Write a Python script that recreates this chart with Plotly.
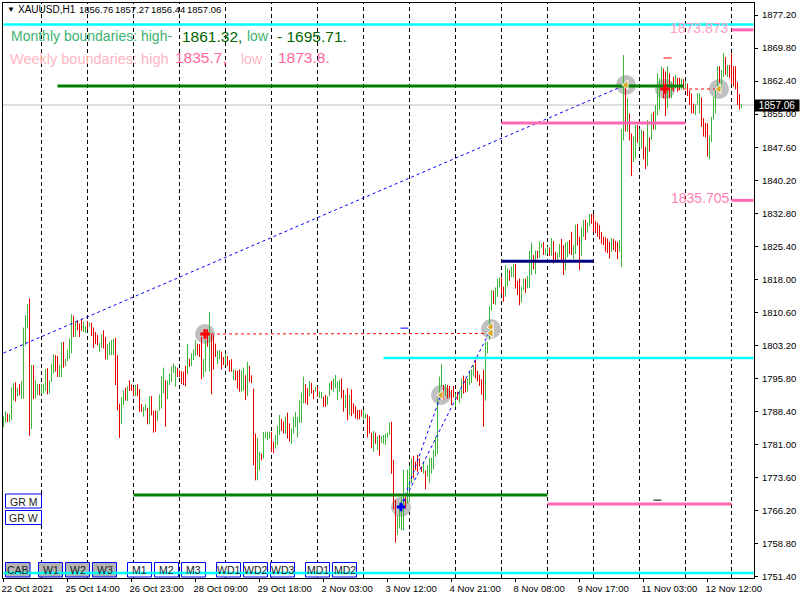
import plotly.graph_objects as go

# Bar highs / lows / direction (one list set per stretch of the chart)
highs_a = [1787.1,1788.2,1787.7,1787.6,1793.6,1794.5,1794.7,1793.5,1794.3,1795,1807,1809.8,1812.3,1813.5,1798.6,1798.6,1795.2,1794.4,1794.3,1794.4,1794.4,1797.7,1797.9,1795.2,1798.9,1801,1800.8,1800.6,1798.6,1803.6,1803.8,1800,1802.1,1804.6,1810,1809.7,1808.3,1808.7,1807.9,1809,1808.3,1807.3,1808.5,1808.1,1808.1,1807,1806,1805.4,1803.6,1805.5,1806.4,1804.9,1803.3,1803.8,1804.2,1804.4,1804.7,1800.8,1789.9,1791.4,1792.9,1793.5,1793.8,1795.2,1794.3,1793.7,1794.1,1794.3,1793.2,1789.8,1789.2,1789.8,1789,1791.6,1791.6,1788.3,1788.4,1788.3,1792,1796.1,1798,1795.2,1795.1,1796.7,1798.2,1798.9,1798.4,1798,1797.4,1797.2,1797.1,1798.4,1803.3,1800,1801.2,1802.1,1804.2,1803.4,1803.3,1804.9,1800,1804.2,1806.6,1810.5,1805.5,1805.3,1803.4,1801.8,1802,1801.6,1800.4,1801.2,1800.6,1799.7,1799.9,1797.6,1797.4,1797.3,1797.6,1797.4,1798,1796.3,1799.3,1798.4,1796.3,1793.3,1783.2,1782.2,1779.1,1778.7,1783.6,1783.6,1783.6,1783.6]
lows_a = [1784.7,1785.6,1785.8,1785.8,1786.2,1790.6,1790.4,1791.5,1791.8,1791,1791,1803,1806.8,1782.7,1784.2,1790.9,1791.1,1791.8,1791.8,1792,1792.2,1792.8,1792,1792.2,1794.8,1796.7,1797.1,1795.9,1795.9,1795.9,1798,1798.3,1799.5,1800,1801.2,1804.9,1804.9,1806.4,1804.9,1806.3,1806,1805.8,1806.6,1807.2,1805.1,1802.4,1803.3,1803,1801.5,1802.5,1802.3,1799.8,1799.8,1800.8,1800.8,1800.8,1794.1,1788.4,1782.2,1785.3,1789.6,1790.6,1790.5,1792.8,1792.8,1791.6,1791.6,1791.6,1788.1,1788.1,1787,1788.3,1785.3,1785.3,1787.3,1783.4,1783.6,1786,1788.3,1788.8,1792.2,1784.7,1790.9,1794.1,1794.8,1796.9,1793.7,1795.9,1795.9,1794.3,1794.1,1793.8,1796.6,1798.2,1798.4,1799.7,1800.7,1800.8,1800.4,1795.4,1795.9,1797.1,1802.7,1797.1,1792,1797.6,1800.4,1798.8,1799.9,1797.6,1798.6,1798.6,1798.4,1797.1,1797.1,1795.2,1795.1,1793.3,1792.6,1792.6,1792.8,1790.7,1791.6,1794.8,1794.5,1776.1,1772.7,1772.7,1775,1777.2,1777.6,1782.1,1781.7,1782.1]
dirs_a = ["u","u","d","u","u","u","d","u","d","u","u","u","u","d","u","d","u","u","d","u","u","u","d","u","u","u","d","d","u","u","d","u","u","u","u","d","u","d","d","d","u","u","d","u","d","d","d","d","u","u","d","d","u","u","u","u","d","d","d","u","u","d","u","d","d","d","u","d","d","d","u","u","d","u","d","d","d","u","u","u","u","d","u","u","u","u","u","d","d","d","d","d","u","d","u","u","u","d","d","d","u","u","d","u","d","d","d","u","u","d","d","u","d","d","d","u","d","d","d","u","u","d","u","d","d","d","d","u","u","d","u","u","u","u"]

highs_b = [1783.6,1781.4,1782.9,1784.9,1787.4,1786.5,1785.9,1787,1787.9,1785.5,1784.4,1787,1788.1,1787,1790.7,1792.4,1796,1794.3,1793.4,1795,1794.6,1793,1793.7,1793.7,1792.7,1792.6,1791.5,1791.9,1791.6,1794.6,1795,1795.6,1796.4,1794.9,1795.2,1795.6,1793,1791.9,1793.4,1791.9,1793.1,1790,1789.4,1788.5,1788.5,1788.6,1788.5,1787.7,1787.5,1787,1783.4,1783.8,1783.4,1782.6,1782.9,1782.6,1782.9,1783.2,1783.4,1785.6,1785.9,1777.3,1768.3,1764.9,1767.5,1769,1775.1,1769,1775.1,1775.8,1777.6,1778.2,1776.9,1778.4,1777.6,1775.8,1776.9,1774.9,1776.1,1777.8,1777.8,1779.6,1782.5,1791.1,1796,1798.8,1794.1,1794.3,1794.1,1793.9,1793,1793.9,1792.2,1792.6,1793,1795.6,1796.2,1795.6,1795.6,1797.1,1797.6,1798.6,1799.8,1797.3,1796.4,1795.4,1797.5,1803.8,1803.8]
lows_b = [1779.1,1778.8,1779.9,1780.6,1782.9,1783.8,1783.2,1783.2,1782.1,1781.4,1780.9,1783.2,1784.6,1782.3,1785.6,1785.6,1790,1790,1789.6,1791.6,1792.2,1790.9,1792.6,1791.5,1791.2,1791.1,1789.2,1789.2,1789.6,1791.6,1793,1792.6,1793.4,1790.7,1792.6,1791.1,1788.1,1788.9,1786.2,1787.4,1787.1,1787.7,1786.6,1786.4,1786.4,1787,1786.4,1786.6,1782.3,1783.2,1779.9,1779.1,1780.9,1779.5,1778.2,1781.1,1780.9,1780.6,1782.3,1782.9,1774.2,1766.2,1758.7,1760.4,1761.9,1761.5,1761.4,1766.4,1767.5,1767.9,1772,1773.1,1775,1774.6,1775.8,1774.6,1774.2,1770.7,1773.5,1772.2,1774.2,1775.1,1778,1778.6,1791.1,1793.7,1790.7,1791.6,1791.1,1791.3,1789.6,1791.3,1789.2,1790.7,1790.1,1791.1,1792.2,1792.4,1792.6,1794.1,1794.6,1796,1795.6,1794.9,1793.9,1791.9,1784.7,1790.6,1801.2]
dirs_b = ["d","d","u","u","u","d","d","u","d","d","u","u","u","u","u","u","u","d","d","u","d","d","u","d","u","u","d","d","u","u","d","u","u","u","u","d","d","u","d","u","d","d","d","d","d","d","u","u","d","d","d","u","d","u","d","u","u","u","u","u","d","d","d","u","u","u","u","d","u","u","u","d","d","d","d","d","u","d","u","u","u","u","u","u","u","u","d","u","d","d","d","d","u","d","u","u","d","d","u","u","u","u","d","d","d","d","d","u","u"]

highs_c = [1811.8,1815.4,1815.3,1816,1817.9,1818.3,1818.3,1816.2,1821,1820.3,1819.9,1820.7,1821.3,1821.3,1817.5,1818,1816.2,1818,1818,1818.6,1824.2,1826.1,1823.3,1824.3,1824.3,1826.4,1825.9,1826.2,1824.8,1825.2,1825,1827.1,1826.4,1824,1823.7,1825.8,1826.9,1825.5,1826.1,1826.3,1826.7,1828.5,1825.5,1830.1,1830.3,1827.4,1829.5,1831.2,1831.2,1830.6,1832.5,1832.5,1832.5,1830.9,1830.6,1830,1828.5,1827.4,1827.3,1827,1826.3,1827.1,1826.9,1826.5,1826.3,1826.7]
lows_c = [1804.2,1810.9,1812.3,1812.1,1813.9,1816,1814.5,1812.8,1813.9,1816.3,1817.5,1818.3,1818.3,1815.8,1814.3,1812,1812.6,1815.4,1814.8,1815.8,1815.9,1818.8,1820.1,1819,1822.5,1822.7,1825,1823.3,1823.3,1823.5,1823.1,1823.1,1821.4,1822,1822.2,1822.8,1821.8,1818.8,1819.8,1822.8,1823.5,1823.3,1822.4,1823.5,1825.5,1819.9,1823.1,1827.4,1826.7,1828.3,1829.8,1830.3,1828.5,1828.2,1827.4,1826.8,1825.8,1825.5,1824,1823.7,1822.5,1824,1824.4,1824,1822.4,1824]
dirs_c = ["u","u","d","u","u","u","d","d","u","u","d","u","u","d","d","d","u","u","d","u","u","u","d","u","d","u","u","d","u","u","d","u","d","d","u","u","d","d","u","u","d","d","u","u","d","d","u","u","d","u","u","d","d","d","d","d","d","d","d","d","d","u","d","d","d","u"]

highs_d = [1851.6,1868.2,1861.9,1858.5,1855.1,1850.6,1850,1852.5,1852.5,1851.7,1851.4,1851.1,1847.6,1853.6,1849.7,1855.1,1855.5,1857,1864.1,1863,1865.6,1865.2,1864.5,1865.7,1864.1,1862.2,1863.3,1863.7,1863.1,1863.1,1863,1862.8,1862.4,1861.8,1860.3,1859.6,1857.3,1857.1,1859.7,1859.6,1858.7,1854,1853,1852.8,1850.2,1854.3,1858.8,1860.7,1865.7,1865.7,1864.8,1868.6,1867.8,1866,1866,1868.6,1865.7,1865.7,1862.2,1859.4,1857.2]
lows_d = [1820.6,1849,1851,1851,1849,1841,1844.2,1845,1848.5,1847.6,1847.2,1844.8,1842.6,1843.3,1846.6,1849.1,1851.5,1851.4,1854.7,1855.9,1860.3,1858.5,1854.5,1856.2,1858.5,1858.5,1860,1860.7,1860,1860.3,1860.5,1860.7,1860.7,1859,1857,1855.1,1855.1,1854.7,1857,1855.1,1852.1,1849.9,1849.7,1845.4,1844.8,1848.7,1853.7,1855.1,1860.5,1862,1860.7,1863.3,1863.7,1863.3,1863,1861.8,1861.1,1860.5,1857,1856,1856.3]
dirs_d = ["u","u","d","u","d","d","u","u","d","u","u","d","d","u","d","u","d","u","u","u","u","d","d","u","d","u","d","u","d","d","u","d","u","d","d","d","d","u","u","u","d","d","d","d","u","u","u","u","u","d","u","u","d","u","d","d","d","d","d","d","u"]

# Price-axis levels and labels
y_ticks = [1877.20,1869.80,1862.40,1855.00,1847.60,1840.20,1832.80,1825.40,1818.00,1810.60,1803.20,1795.80,1788.40,1781.00,1773.60,1766.20,1758.80,1751.40]
x_tick_bars = [0,32,64,96,128,160,192,224,256,288,320,352]
x_tick_text = ["22 Oct 2021","25 Oct 14:00","26 Oct 23:00","28 Oct 09:00","29 Oct 18:00","2 Nov 03:00","3 Nov 12:00","4 Nov 21:00","8 Nov 08:00","9 Nov 17:00","11 Nov 03:00","12 Nov 12:00"]
period_bars = [19,42,65,88,111,134,157,180,203,226,249,272,295,318,341,364]

# Boundary levels: (first bar, last bar, price)
cyan_levels = [(0,375,1875.07),(190,375,1800.4),(0,375,1752.28)]
green_levels = [(27,340,1861.32),(65,272,1769.75)]
pink_levels = [(249,341,1853.0),(272,364,1767.73),(364,375,1873.873),(364,375,1835.705)]
navy_levels = [(249,295,1822.1)]
tiny_dashes = [(198.5,202.5,1807.1,"#0000ff"),(330,334,1867.57,"#ff0000"),(325,329,1768.6,"#000000")]

# Pivot points
pivot_bars = [100.75,198.75,218.75,243.75,311.25,330.75,357.75]
pivot_prices = [1805.79,1767.06,1792.13,1806.9,1861.53,1860.63,1860.63]
glyph_bars = [100.75,198.75,218.75,243.75,243.75,311.25,330.75,357.75]
glyph_prices = [1805.79,1767.06,1792.13,1807.35,1806.0,1861.53,1860.63,1860.63]
glyph_kinds = ["red","blue","orange","orange","orange","orange","red","orange"]
trend_lines = [((0,1801.53),(310.75,1861.5)),((198.75,1767.06),(218.75,1792.13)),((198.75,1767.06),(243.75,1806.9))]
red_links = [((100.75,1805.79),(243.75,1805.9)),((330.75,1860.63),(357.75,1860.63))]

highs_raw = highs_a + highs_b + highs_c + highs_d
lows_raw = lows_a + lows_b + lows_c + lows_d
dirs = dirs_a + dirs_b + dirs_c + dirs_d

# readings were taken with a slightly different axis calibration
def cal(v):
    return 1877.2 - (1877.2 - v) * 4.453 / 4.467
highs = [cal(v) for v in highs_raw]
lows = [cal(v) for v in lows_raw]
opens = [l if d == "u" else h for h, l, d in zip(highs, lows, dirs)]
closes = [h if d == "u" else l for h, l, d in zip(highs, lows, dirs)]
bars = list(range(len(highs)))

W, H = 800, 600
L, R, T, B = 3, 754, 3, 578
FONT = "Liberation Sans"

def px(x):
    return (x - L) / (R - L)
def py(y):
    return 1 - (y - T) / (B - T)

fig = go.Figure()
fig.add_trace(go.Ohlc(x=bars, open=opens, high=highs, low=lows, close=closes, tickwidth=0,
                      increasing=dict(line=dict(color="#3cb63c", width=1)),
                      decreasing=dict(line=dict(color="#e60000", width=1)),
                      hoverinfo="skip", showlegend=False))

def segs(items, color, width, dash="solid"):
    for a, b, p in items:
        fig.add_trace(go.Scatter(x=[a, b], y=[p, p], mode="lines",
                                 line=dict(color=color, width=width, dash=dash), hoverinfo="skip", showlegend=False))

for a, b in trend_lines:
    fig.add_trace(go.Scatter(x=[a[0], b[0]], y=[a[1], b[1]], mode="lines",
                             line=dict(color="#0000ff", width=1, dash="3px,3px"), hoverinfo="skip", showlegend=False))
for a, b in red_links:
    fig.add_trace(go.Scatter(x=[a[0], b[0]], y=[a[1], b[1]], mode="lines",
                             line=dict(color="#ff0000", width=1, dash="3px,3px"), hoverinfo="skip", showlegend=False))
segs(cyan_levels, "#00ffff", 2.5)
segs(pink_levels, "#ff69b4", 3)
segs(green_levels, "#008000", 3)
segs(navy_levels, "#000080", 3)
for a, b, p, c in tiny_dashes:
    fig.add_trace(go.Scatter(x=[a, b], y=[p, p], mode="lines", line=dict(color=c, width=1), hoverinfo="skip", showlegend=False))

for kind, sym, col, size, lw, lc in [("orange", "triangle-left", "#daa520", 8, 1, "#ffffff"),
                                     ("red", "cross", "#ff0000", 8, 0, "#ff0000"),
                                     ("blue", "cross", "#0000ff", 7, 0, "#0000ff")]:
    xs = [x for x, k in zip(glyph_bars, glyph_kinds) if k == kind]
    ys = [y for y, k in zip(glyph_prices, glyph_kinds) if k == kind]
    fig.add_trace(go.Scatter(x=xs, y=ys, mode="markers", hoverinfo="skip", showlegend=False,
                             marker=dict(symbol=sym, color=col, size=size, line=dict(width=lw, color=lc))))

shapes = []
for b in period_bars:
    shapes.append(dict(type="line", xref="x", yref="paper", x0=b, x1=b, y0=0, y1=1, layer="below",
                       line=dict(color="#000000", width=1, dash="4px,3px")))
shapes.append(dict(type="line", xref="paper", yref="y", x0=0, x1=1, y0=1857.06, y1=1857.06, layer="below",
                   line=dict(color="#c0c0c0", width=1)))
for b, p in zip(pivot_bars, pivot_prices):
    shapes.append(dict(type="circle", xref="x", yref="y", xsizemode="pixel", ysizemode="pixel",
                       xanchor=b, yanchor=p, x0=-10, x1=10, y0=-10, y1=10, layer="below",
                       fillcolor="#c0c0c0", line=dict(width=0)))

annotations = []
def text(x, y, s, color="#000000", size=10, anchor="left", **kw):
    annotations.append(dict(xref="paper", yref="paper", x=px(x), y=py(y), text=s, showarrow=False,
                            xanchor=anchor, yanchor="middle", align="left", font=dict(family=FONT, size=size, color=color),
                            borderpad=0, **kw))

buttons = [("GR M",5.5,41.5,494,508,False),("GR W",5.5,41.5,510.5,524.5,False),
           ("CAB",5.5,30,562.5,577,True),("W1",38.5,62.5,562.5,577,True),("W2",65.5,89.5,562.5,577,True),("W3",92.5,116.5,562.5,577,True),
           ("M1",127.5,151.5,562.5,577,False),("M2",154.5,178.5,562.5,577,False),("M3",181.5,205.5,562.5,577,False),
           ("WD1",216.5,240.5,562.5,577,False),("WD2",243.5,267.5,562.5,577,False),("WD3",270.5,294.5,562.5,577,False),
           ("MD1",305.5,329.5,562.5,577,False),("MD2",332.5,356.5,562.5,577,False)]
for label, x0, x1, y0, y1, on in buttons:
    shapes.append(dict(type="rect", xref="paper", yref="paper", x0=px(x0), x1=px(x1), y0=py(y1), y1=py(y0), layer="below",
                       fillcolor="#b4b4b4" if on else "#ffffff", line=dict(color="#0000ff", width=1)))
    text((x0 + x1) / 2, (y0 + y1) / 2 + 0.5, label, "#202020", 10.5, "center")

text(6, 10, "▼", "#000000", 8)
text(17, 10, "XAUUSD,H1", "#000000", 10)
text(78, 10, "1856.76", "#000000", 9.5)
text(114, 10, "1857.27", "#000000", 9.5)
text(150, 10, "1856.44", "#000000", 9.5)
text(186, 10, "1857.06", "#000000", 9.5)
text(10, 36, "Monthly boundaries: high-", "#3cb371", 14)
text(181, 36, "1861.32,", "#006400", 15.5)
text(246, 36, "low", "#3cb371", 14)
text(276, 36, "- 1695.71.", "#006400", 15.5)
text(9, 59, "Weekly boundaries: high", "#ffb6c1", 14.5)
text(174, 57, "1835.7,", "#ff6699", 15.5)
text(240, 59, "low", "#ffb6c1", 14)
text(277, 57, "1873.8.", "#ff6699", 15.5)
text(730, 28, "1873.873", "#ffa0c8", 14, "right")
text(731, 198, "1835.705", "#ff80b4", 14, "right")
annotations.append(dict(xref="paper", yref="paper", x=px(777), y=py(105), text="1857.06", showarrow=False,
                        xanchor="center", yanchor="middle", bgcolor="#000000", width=44, height=11, borderpad=0,
                        font=dict(family=FONT, size=10, color="#ffffff")))

fig.update_layout(width=W, height=H, margin=dict(l=L, r=W - R, t=T, b=H - B, pad=0), paper_bgcolor="#ffffff",
                  plot_bgcolor="#ffffff", showlegend=False, shapes=shapes, annotations=annotations,
                  font=dict(family=FONT, size=10, color="#000000"))
fig.update_xaxes(automargin=False, range=[-0.25, 375.25], showgrid=False, zeroline=False, rangeslider_visible=False, tickmode="array",
                 tickvals=x_tick_bars, ticktext=x_tick_text, ticks="outside", ticklen=3, tickcolor="#000000",
                 tickangle=0, ticklabelposition="outside right", ticklabelshift=-3, ticklabelstandoff=2,
                 showline=True, linecolor="#000000", linewidth=1, mirror=True,
                 tickfont=dict(family=FONT, size=9.5))
y_top = 1877.2 + (15 - T) / 4.467
y_bot = 1877.2 - (B - 15) / 4.467
fig.update_yaxes(automargin=False, range=[y_bot, y_top], side="right", showgrid=False, zeroline=False, tickmode="array",
                 tickvals=y_ticks, ticktext=[f"{v:.2f}" for v in y_ticks], ticks="outside", ticklen=3,
                 ticklabelstandoff=2, tickcolor="#000000", showline=True, linecolor="#000000", linewidth=1, mirror=True,
                 tickfont=dict(family=FONT, size=9.5))
fig.write_html("out.html", config=dict(displayModeBar=False),
               post_script="document.body.style.margin='0';document.documentElement.style.overflow='hidden';window.dispatchEvent(new Event('resize'));")
